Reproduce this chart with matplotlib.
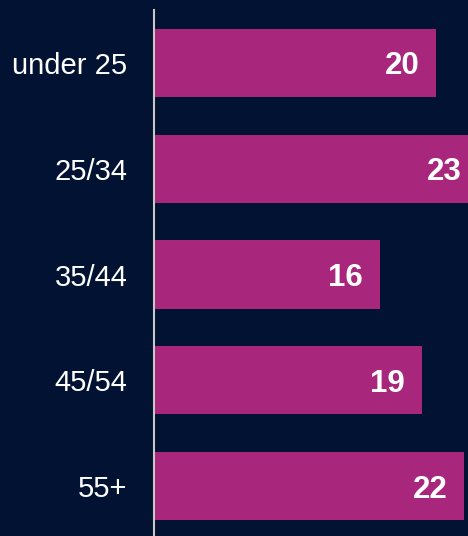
import matplotlib.pyplot as plt

plt.rcParams['font.family'] = ['Liberation Sans', 'DejaVu Sans']

# Age groups and values
age_groups = ['under 25', '25/34', '35/44', '45/54', '55+']
values = [20, 23, 16, 19, 22]

bg = '#011232'
bar_color = '#A8267B'

fig = plt.figure(figsize=(4.68, 5.36), dpi=100, facecolor=bg)
ax = fig.add_axes([154 / 468, -3 / 536, 1 - 154 / 468, 1 - 7 / 536])
ax.set_facecolor(bg)

pos = list(range(len(age_groups)))
ax.barh(pos, values, height=0.645, color=bar_color)
ax.set_xlim(0, 22.25)
ax.set_ylim(len(age_groups) - 0.5, -0.5)

for p, v in zip(pos, values):
    ax.text(v - 1.2, p, str(v), ha='right', va='center_baseline',
            color='white', fontsize=22.5, fontweight='bold')

ax.set_yticks(pos)
ax.set_yticklabels(age_groups, color='white', fontsize=21, va='center_baseline')
ax.tick_params(axis='y', length=0, pad=19)
ax.set_xticks([])

for side in ['top', 'right', 'bottom']:
    ax.spines[side].set_visible(False)
ax.spines['left'].set_color('#C8C8C8')
ax.spines['left'].set_linewidth(1.5)

fig.savefig('out.png', dpi=100, facecolor=bg)
